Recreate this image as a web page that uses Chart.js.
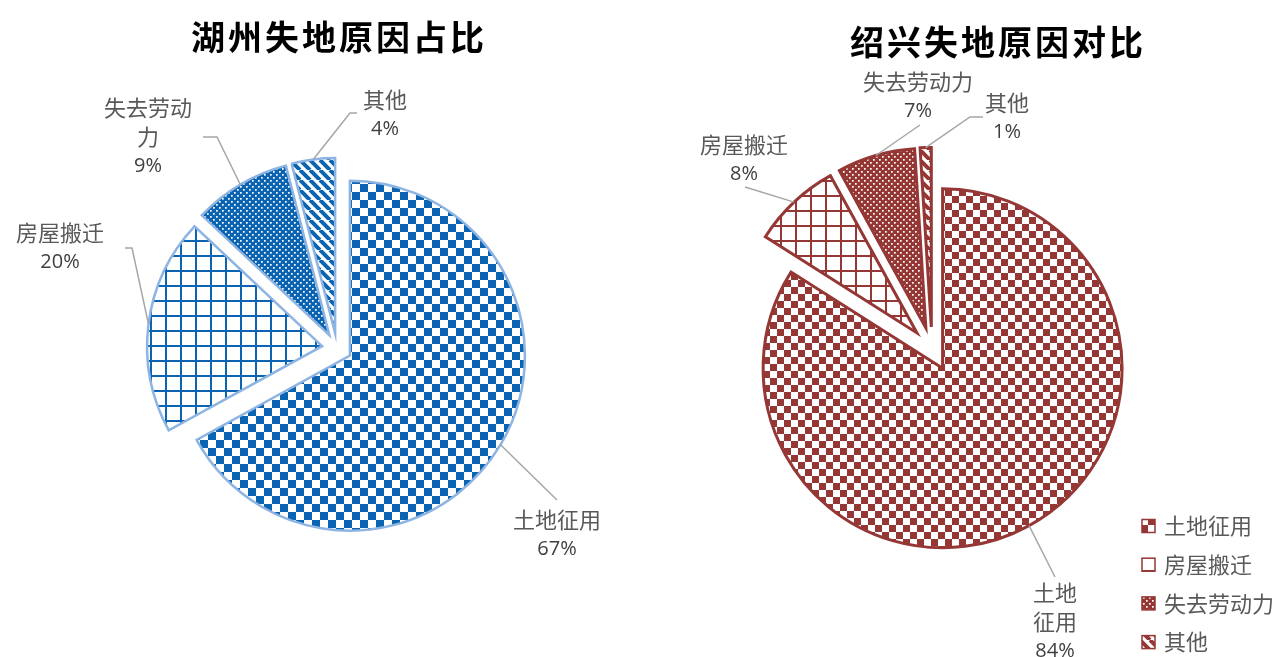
<!DOCTYPE html>
<html>
<head>
<meta charset="utf-8">
<script src="https://cdn.jsdelivr.net/npm/chart.js@4"></script>
<style>
  html, body { margin: 0; padding: 0; background: #fff; }
  #wrap { position: relative; width: 1286px; height: 657px; overflow: hidden; }
  canvas { position: absolute; left: 0; top: 0; }
  .title {
    position: absolute;
    font: bold 34px "Noto Sans CJK SC";
    letter-spacing: 3px;
    color: #000;
    white-space: nowrap;
    transform: translate(-50%, -50%);
  }
</style>
</head>
<body>
<div id="wrap">
  <canvas id="huzhou" width="1286" height="657"></canvas>
  <canvas id="shaoxing" width="1286" height="657"></canvas>
  <div class="title" style="left:339px;top:35px">湖州失地原因占比</div>
  <div class="title" style="left:998px;top:40px">绍兴失地原因对比</div>
</div>
<script>
// data (percent)
const categories = ['土地征用', '房屋搬迁', '失去劳动力', '其他'];
const huzhouShare = [67, 20, 9, 4];
const shaoxingShare = [84, 8, 7, 1];

// Excel-like pattern fills
function makeTile(size, draw) {
  const c = document.createElement('canvas');
  c.width = c.height = size;
  const g = c.getContext('2d');
  g.fillStyle = '#fff';
  g.fillRect(0, 0, size, size);
  draw(g, size);
  return g.createPattern(c, 'repeat');
}

function makePatterns(color, cell) {
  const checker = makeTile(cell * 2, (g, s) => {
    g.fillStyle = color;
    g.fillRect(0, 0, cell, cell);
    g.fillRect(cell, cell, cell, cell);
  });
  const grid = makeTile(15, (g, s) => {
    g.fillStyle = color;
    g.fillRect(0, 0, s, 2);
    g.fillRect(0, 0, 2, s);
  });
  const dots = makeTile(6, (g, s) => {
    g.fillStyle = color;
    g.fillRect(0, 0, s, s);
    g.fillStyle = '#fff';
    g.fillRect(0, 0, 1.7, 1.7);
    g.fillRect(3, 3, 1.7, 1.7);
  });
  const stripes = makeTile(10, (g, s) => {
    g.strokeStyle = color;
    g.lineWidth = 4;
    g.beginPath();
    for (let k = -1; k <= 1; k++) {
      g.moveTo(k * s, 0);
      g.lineTo(k * s + s, s);
    }
    g.stroke();
  });
  return [checker, grid, dots, stripes];
}

// pull every slice out from the centre by the same distance (like Excel explosion)
const explode = {
  id: 'explode',
  afterDatasetsUpdate(chart, args, opts) {
    chart.getDatasetMeta(0).data.forEach(arc => {
      const mid = (arc.startAngle + arc.endAngle) / 2;
      arc.x += Math.cos(mid) * opts.distance;
      arc.y += Math.sin(mid) * opts.distance;
    });
  }
};

// data labels with leader lines, plus optional legend
const pieLabels = {
  id: 'pieLabels',
  afterDraw(chart, args, opts) {
    const ctx = chart.ctx;
    const ds = chart.data.datasets[0];
    const arcs = chart.getDatasetMeta(0).data;
    ctx.save();
    opts.layout.forEach((p, i) => {
      const arc = arcs[i];
      const mid = (arc.startAngle + arc.endAngle) / 2;
      const ex = arc.x + Math.cos(mid) * arc.outerRadius;
      const ey = arc.y + Math.sin(mid) * arc.outerRadius;

      ctx.strokeStyle = '#a6a6a6';
      ctx.lineWidth = 1.5;
      ctx.beginPath();
      p.leader.forEach((pt, k) => k ? ctx.lineTo(pt[0], pt[1]) : ctx.moveTo(pt[0], pt[1]));
      ctx.lineTo(ex, ey);
      ctx.stroke();

      const name = chart.data.labels[i];
      const lines = [];
      for (let s = 0; s < name.length; s += p.wrap) lines.push(name.slice(s, s + p.wrap));
      ctx.textAlign = 'center';
      ctx.textBaseline = 'middle';
      ctx.font = '22px "Noto Sans CJK SC"';
      ctx.fillStyle = '#595959';
      lines.forEach((t, k) => ctx.fillText(t, p.x, p.y + k * 29));
      ctx.font = '20px "Open Sans"';
      ctx.fillStyle = '#404040';
      ctx.fillText(ds.data[i] + '%', p.x, p.y + lines.length * 29);
    });

    if (opts.legend) {
      const lg = opts.legend;
      chart.data.labels.forEach((name, i) => {
        const cy = lg.y + i * lg.step;
        ctx.fillStyle = ds.backgroundColor[i];
        ctx.fillRect(lg.x, cy - 6.5, 13, 13);
        ctx.strokeStyle = ds.borderColor;
        ctx.lineWidth = 1.5;
        ctx.strokeRect(lg.x, cy - 6.5, 13, 13);
        ctx.font = '22px "Noto Sans CJK SC"';
        ctx.fillStyle = '#595959';
        ctx.textAlign = 'left';
        ctx.textBaseline = 'middle';
        ctx.fillText(name, lg.x + 22, cy);
      });
    }
    ctx.restore();
  }
};

function pieChart(id, values, colors, border, borderWidth, radius, distance, padding, labelOpts) {
  return new Chart(document.getElementById(id), {
    type: 'pie',
    data: {
      labels: categories,
      datasets: [{
        data: values,
        backgroundColor: colors,
        borderColor: border,
        borderWidth: borderWidth,
        hoverBorderWidth: borderWidth,
        hoverOffset: 0,
        borderJoinStyle: 'miter'
      }]
    },
    options: {
      responsive: false,
      animation: false,
      radius: radius,
      layout: { padding: padding },
      events: [],
      plugins: {
        legend: { display: false },
        tooltip: { enabled: false },
        explode: { distance: distance },
        pieLabels: labelOpts
      }
    },
    plugins: [explode, pieLabels]
  });
}

pieChart('huzhou', huzhouShare, makePatterns('#0a64b2', 8), '#8db4e2', 2.5, 175, 15,
  { left: 20, right: 632, top: 60, bottom: 21 },
  {
    layout: [
      { x: 557, y: 520, wrap: 4, leader: [[557, 500]] },
      { x: 60, y: 233, wrap: 4, leader: [[125, 248], [132, 248]] },
      { x: 148, y: 108, wrap: 4, leader: [[203, 137], [217, 137]] },
      { x: 385, y: 100, wrap: 4, leader: [[357, 113], [350, 113]] }
    ]
  });

pieChart('shaoxing', shaoxingShare, makePatterns('#953735', 7), '#953735', 3, 179.5, 22,
  { left: 600, right: 22, top: 60, bottom: 19 },
  {
    layout: [
      { x: 1055, y: 593, wrap: 2, leader: [[1055, 577]] },
      { x: 744, y: 145, wrap: 5, leader: [[745, 187]] },
      { x: 918, y: 82, wrap: 5, leader: [[920, 125]] },
      { x: 1007, y: 103, wrap: 5, leader: [[983, 117], [970, 117]] }
    ],
    legend: { x: 1142, y: 526, step: 38.7 }
  });
</script>
</body>
</html>
